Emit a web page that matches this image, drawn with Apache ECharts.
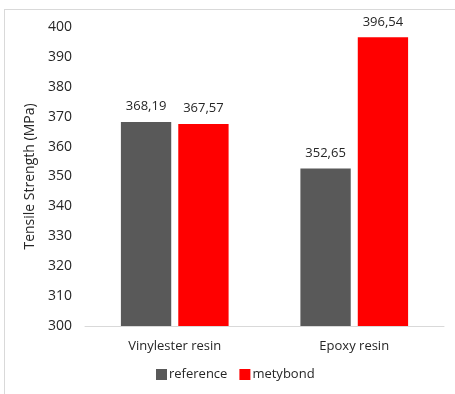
<!DOCTYPE html>
<html>
<head>
<meta charset="utf-8">
<script src="https://cdn.jsdelivr.net/npm/echarts@6/dist/echarts.min.js"></script>
<style>
  html, body { margin: 0; padding: 0; background: #fff; }
  #frame { position: absolute; left: 4px; top: 9px; width: 460px; height: 400px; border: 1px solid #d9d9d9; box-sizing: border-box; }
  #chart { position: absolute; left: 0; top: 0; width: 455px; height: 394px; }
</style>
</head>
<body>
<div id="frame"></div>
<div id="chart"></div>
<script>
const categories = ['Vinylester resin', 'Epoxy resin'];
const referenceValues = [368.19, 352.65];
const metybondValues = [367.57, 396.54];
const yTicks = { min: 300, max: 400, interval: 10 };

const fontFamily = '"Open Sans", "Noto Sans", sans-serif';
const textColor = '#262626';
const fmt = v => v.value.toFixed(2).replace('.', ',');

const chart = echarts.init(document.getElementById('chart'), null, { renderer: 'canvas' });
chart.setOption({
  animation: false,
  textStyle: { fontFamily: fontFamily },
  grid: { left: 85, right: 11, top: 27, bottom: 68, containLabel: false },
  legend: {
    bottom: 8,
    left: 151,
    itemWidth: 11,
    itemHeight: 11,
    itemGap: 12,
    icon: 'rect',
    textStyle: { fontSize: 13, color: textColor, fontFamily: fontFamily, padding: [0, 0, 0, -3] },
    data: ['reference', 'metybond']
  },
  xAxis: {
    type: 'category',
    data: categories,
    axisLine: { lineStyle: { color: '#d9d9d9', width: 1 } },
    axisTick: { show: false },
    axisLabel: { fontSize: 13, color: textColor, margin: 14, fontFamily: fontFamily }
  },
  yAxis: {
    type: 'value',
    min: yTicks.min,
    max: yTicks.max,
    interval: yTicks.interval,
    name: 'Tensile Strength (MPa)',
    nameLocation: 'middle',
    nameGap: 42,
    nameTextStyle: { fontSize: 14, color: textColor, fontFamily: fontFamily },
    axisLine: { show: false },
    axisTick: { show: false },
    splitLine: { show: false },
    axisLabel: { fontSize: 14, color: textColor, margin: 13, fontFamily: fontFamily }
  },
  series: [
    {
      name: 'reference',
      type: 'bar',
      data: referenceValues,
      barGap: '14%',
      barCategoryGap: '40%',
      itemStyle: { color: '#595959' },
      label: { show: true, position: 'top', distance: 9, fontSize: 13, color: textColor, formatter: fmt, fontFamily: fontFamily }
    },
    {
      name: 'metybond',
      type: 'bar',
      data: metybondValues,
      itemStyle: { color: '#ff0000' },
      label: { show: true, position: 'top', distance: 9, fontSize: 13, color: textColor, formatter: fmt, fontFamily: fontFamily }
    }
  ]
});
</script>
</body>
</html>
